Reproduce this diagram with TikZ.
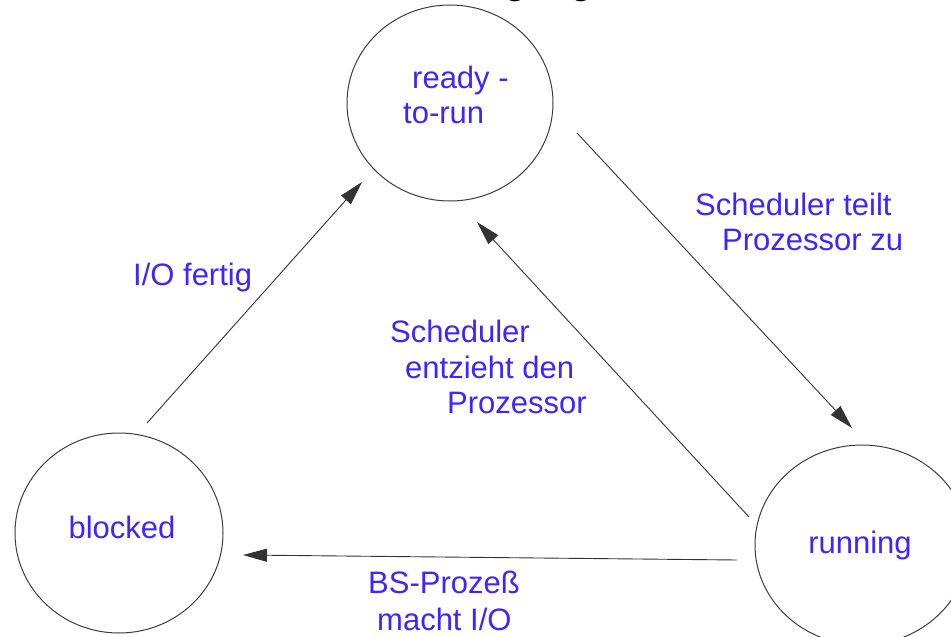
\documentclass[tikz,border=0pt]{standalone}
\usepackage{fontspec}
\setmainfont{Liberation Sans}
\usetikzlibrary{shapes.geometric,arrows.meta}
\definecolor{labelblue}{RGB}{64,36,255}
\definecolor{edgegray}{RGB}{60,60,60}
\begin{document}
\begin{tikzpicture}[x=1pt,y=-1pt,
  state/.style={ellipse,draw=edgegray,line width=1pt,inner sep=0pt,
    text=labelblue,font=\fontsize{30.5}{35}\selectfont},
  lbl/.style={text=labelblue,font=\fontsize{31}{35}\selectfont,inner sep=0pt},
  trans/.style={draw=black!80,line width=0.9pt,
    -{Triangle[length=24pt,width=13pt]}}]
\useasboundingbox (0,0) rectangle (951,637);

% title, cut off by the page edge
\node[font=\fontsize{40}{44}\selectfont,anchor=base] (ga) at (516,-6) {g};
\node[font=\fontsize{40}{44}\selectfont,anchor=base] (gb) at (582,-6) {g};

% states
\node[state,minimum width=206pt,minimum height=196pt] (ready) at (450,103) {};
\node[lbl,anchor=base west] (readytxt1) at (412,88) {ready -};
\node[lbl,anchor=base west] (readytxt2) at (403,123) {to-run};
\node[state,minimum width=208pt,minimum height=200pt] (blocked) at (119,533) {};
\node[lbl,anchor=base] (blockedtxt) at (122,538) {blocked};
\node[state,minimum width=214pt,minimum height=200pt] (running) at (862,545) {};
\node[lbl,anchor=base] (runningtxt) at (860,553) {running};

% connector ends
\coordinate (b1) at (147,423);
\coordinate (r1) at (362,182);
\coordinate (r2) at (577,133);
\coordinate (u1) at (852,428);
\coordinate (u2) at (749,517);
\coordinate (r3) at (477,222);
\coordinate (u3) at (737,560);
\coordinate (b2) at (243,555);

% transitions
\draw[trans] (b1) -- (r1);
\draw[trans] (r2) -- (u1);
\draw[trans] (u2) -- (r3);
\draw[trans] (u3) -- (b2);

% transition labels
\node[lbl,anchor=base west] (l1) at (133,285) {I/O fertig};
\node[lbl,anchor=base west] (l2a) at (695,215) {Scheduler teilt};
\node[lbl,anchor=base west] (l2b) at (722,250) {Prozessor zu};
\node[lbl,anchor=base west] (l3a) at (390,342) {Scheduler};
\node[lbl,anchor=base west] (l3b) at (405,378) {entzieht den};
\node[lbl,anchor=base west] (l3c) at (447,413) {Prozessor};
\node[lbl,anchor=base west] (l4a) at (368,593) {BS-Prozeß};
\node[lbl,anchor=base west] (l4b) at (377,630) {macht I/O};
\end{tikzpicture}
\end{document}
